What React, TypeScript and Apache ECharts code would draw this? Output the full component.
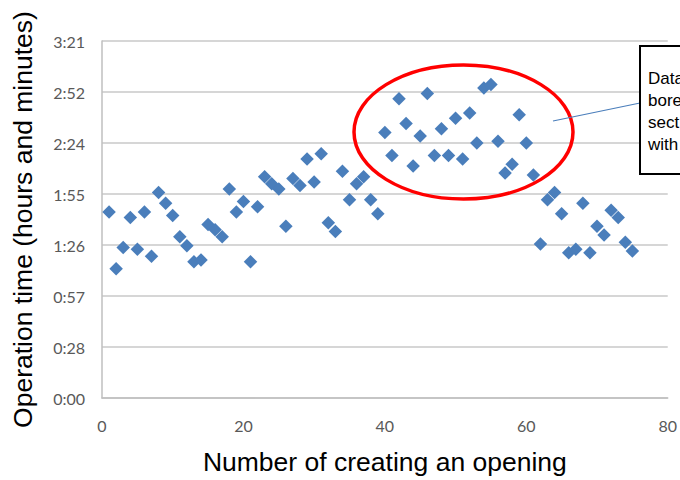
import React, { useEffect, useRef } from "react";
import * as echarts from "echarts";

// Number of creating an opening (x) and operation time in minutes (y)
const openingCounts = [
  1, 2, 3, 4, 5, 6, 7, 8, 9, 10, 11, 12, 13, 14, 15, 16, 17, 18, 19, 20,
  21, 22, 23, 24, 25, 26, 27, 28, 29, 30, 31, 32, 33, 34, 35, 36, 37, 38, 39, 40,
  41, 42, 43, 44, 45, 46, 47, 48, 49, 50, 51, 52, 53, 54, 55, 56, 57, 58, 59, 60,
  61, 62, 63, 64, 65, 66, 67, 68, 69, 70, 71, 72, 73, 74, 75,
];
const operationMinutes = [
  105, 73, 85, 102, 84, 105, 80, 116, 110, 103, 91, 86, 77, 78, 98, 95, 91, 118, 105, 111,
  77, 108, 125, 121, 118, 97, 124, 120, 135, 122, 138, 99, 94, 128, 112, 121, 125, 112, 104, 150,
  137, 169, 155, 131, 148, 172, 137, 152, 137, 158, 135, 161, 144, 175, 177, 145, 127, 132, 160, 144,
  126, 87, 112, 116, 104, 82, 84, 110, 82, 97, 92, 106, 102, 88, 83,
];
const yTickLabels = ["0:00", "0:28", "0:57", "1:26", "1:55", "2:24", "2:52", "3:21"];
const yStep = 28.8; // 0.02 day in minutes
const xTicks = { min: 0, max: 80, interval: 20 };
const calloutLines = ["Data", "bore", "sect", "with"];

export default function App() {
  const ref = useRef<HTMLDivElement>(null);
  useEffect(() => {
    document.body.style.margin = "0";
    const chart = echarts.init(ref.current!, null, { renderer: "svg" });
    const points = openingCounts.map((x, i) => [x, operationMinutes[i]]);
    chart.setOption({
      animation: false,
      backgroundColor: "#ffffff",
      grid: { left: 102, right: 12, top: 41, bottom: 81 },
      xAxis: {
        type: "value",
        min: xTicks.min,
        max: xTicks.max,
        interval: xTicks.interval,
        name: "Number of creating an opening",
        nameLocation: "middle",
        nameGap: 50,
        nameTextStyle: { fontFamily: "Liberation Sans", fontSize: 26.5, color: "#000" },
        axisLine: { show: true, lineStyle: { color: "#bfbfbf", width: 1.5 } },
        axisTick: { show: false },
        splitLine: { show: false },
        axisLabel: { fontFamily: "Lato", fontSize: 16, color: "#595959", margin: 19 },
      },
      yAxis: {
        type: "value",
        min: 0,
        max: yStep * 7,
        interval: yStep,
        name: "Operation time (hours and minutes)",
        nameLocation: "middle",
        nameGap: 66,
        nameTextStyle: { fontFamily: "Liberation Sans", fontSize: 26.5, color: "#000" },
        axisLine: { show: true, lineStyle: { color: "#bfbfbf", width: 1.5 } },
        axisTick: { show: false },
        splitLine: { show: true, lineStyle: { color: "#c8c8c8", width: 1.5 } },
        axisLabel: {
          fontFamily: "Lato",
          fontSize: 16,
          color: "#595959",
          margin: 17,
          formatter: (v: number) => yTickLabels[Math.round(v / yStep)] ?? "",
        },
      },
      series: [
        {
          type: "scatter",
          data: points,
          symbol: "diamond",
          symbolSize: 13.5,
          itemStyle: { color: "#4a7ebb", opacity: 1 },
        },
      ],
      graphic: [
        {
          type: "ellipse",
          shape: { cx: 463.5, cy: 132, rx: 109.5, ry: 67 },
          style: { fill: "none", stroke: "#ff0000", lineWidth: 3.5 },
          z: 10,
        },
        {
          type: "line",
          shape: { x1: 553, y1: 121, x2: 640, y2: 103 },
          style: { stroke: "#4a7ebb", lineWidth: 1.2 },
          z: 10,
        },
        {
          type: "rect",
          shape: { x: 640, y: 46, width: 120, height: 128 },
          style: { fill: "#ffffff", stroke: "#000000", lineWidth: 2 },
          z: 10,
        },
        ...calloutLines.map((t, i) => ({
          type: "text",
          x: 648,
          y: 78 + i * 22,
          style: {
            text: t,
            font: "17px 'Liberation Sans'",
            fill: "#000",
            textVerticalAlign: "middle",
          },
          z: 11,
        })),
      ],
    });
    return () => chart.dispose();
  }, []);
  return <div ref={ref} style={{ width: 680, height: 480 }} />;
}
